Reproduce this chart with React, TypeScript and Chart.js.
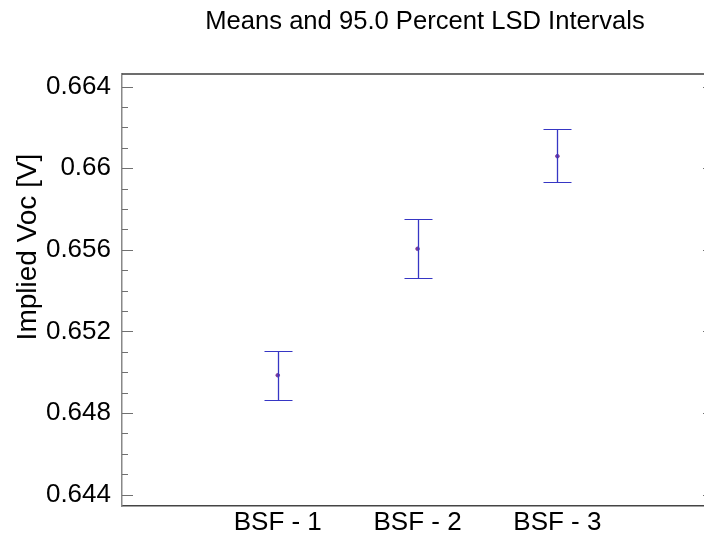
import React, { useEffect, useRef } from "react";
import { Chart, registerables } from "chart.js";

Chart.register(...registerables);

const categories = ["BSF - 1", "BSF - 2", "BSF - 3"];
const means = [0.64985, 0.65605, 0.66059];
const lowerLimits = [0.64863, 0.6546, 0.65932];
const upperLimits = [0.65105, 0.65752, 0.66191];
const yMajorTicks = [0.644, 0.648, 0.652, 0.656, 0.66, 0.664];
const yMinorTicks = [
  0.645, 0.646, 0.647, 0.649, 0.65, 0.651, 0.653, 0.654, 0.655, 0.657, 0.658,
  0.659, 0.661, 0.662, 0.663,
];

const FONT = "'Liberation Sans', Arial, sans-serif";

const decorPlugin = {
  id: "decor",
  afterDatasetsDraw(chart: any) {
    const { ctx, scales } = chart;
    const x = scales.x;
    const y = scales.y;
    ctx.save();
    ctx.strokeStyle = "#3636c4";
    for (let i = 0; i < categories.length; i++) {
      const px = Math.round(x.getPixelForValue(i + 1)) + 0.5;
      const pLo = Math.round(y.getPixelForValue(lowerLimits[i])) + 0.5;
      const pHi = Math.round(y.getPixelForValue(upperLimits[i])) + 0.5;
      ctx.lineWidth = 1.3;
      ctx.beginPath();
      ctx.moveTo(px, pLo);
      ctx.lineTo(px, pHi);
      ctx.stroke();
      ctx.lineWidth = 1;
      ctx.beginPath();
      ctx.moveTo(px - 14, pLo);
      ctx.lineTo(px + 14, pLo);
      ctx.moveTo(px - 14, pHi);
      ctx.lineTo(px + 14, pHi);
      ctx.stroke();
    }
    ctx.restore();
  },
  afterDraw(chart: any) {
    const { ctx, chartArea, scales } = chart;
    const y = scales.y;
    ctx.save();
    ctx.strokeStyle = "#3c3c3c";
    ctx.lineWidth = 1.5;
    ctx.beginPath();
    ctx.moveTo(chartArea.left, chartArea.top);
    ctx.lineTo(chartArea.right, chartArea.top);
    ctx.stroke();
    ctx.strokeStyle = "#666";
    ctx.beginPath();
    ctx.moveTo(chartArea.right, chartArea.top);
    ctx.lineTo(chartArea.right, chartArea.bottom);
    ctx.stroke();
    ctx.strokeStyle = "#707070";
    ctx.lineWidth = 1;
    const drawTick = (v: number, len: number) => {
      const py = Math.round(y.getPixelForValue(v)) + 0.5;
      ctx.beginPath();
      ctx.moveTo(chartArea.left, py);
      ctx.lineTo(chartArea.left + len, py);
      ctx.moveTo(chartArea.right, py);
      ctx.lineTo(chartArea.right - len, py);
      ctx.stroke();
    };
    yMajorTicks.forEach((v) => drawTick(v, 11));
    yMinorTicks.forEach((v) => drawTick(v, 6));
    ctx.fillStyle = "#000";
    ctx.font = `25.6px ${FONT}`;
    ctx.textAlign = "center";
    ctx.textBaseline = "middle";
    ctx.fillText("Means and 95.0 Percent LSD Intervals", 425, 22);
    ctx.translate(28, 247);
    ctx.rotate(-Math.PI / 2);
    ctx.font = `28px ${FONT}`;
    ctx.fillText("Implied Voc [V]", 0, 0);
    ctx.restore();
  },
};

export default function App() {
  const ref = useRef<HTMLCanvasElement | null>(null);
  useEffect(() => {
    if (!ref.current) return;
    const chart = new Chart(ref.current, {
      type: "scatter",
      data: {
        datasets: [
          {
            data: means.map((m, i) => ({ x: i + 1, y: m })),
            backgroundColor: "#7a3a9a",
            borderColor: "#7a3a9a",
            pointRadius: 1.8,
            pointHoverRadius: 1.8,
          },
        ],
      },
      options: {
        animation: false,
        responsive: false,
        maintainAspectRatio: false,
        events: [],
        layout: { padding: { top: 74, right: 6, left: 0, bottom: 0 } },
        plugins: {
          legend: { display: false },
          title: { display: false },
          tooltip: { enabled: false },
        },
        scales: {
          x: {
            type: "linear",
            min: -0.114,
            max: 4.12,
            grid: { display: false, drawTicks: false },
            border: { display: true, color: "#444", width: 1.5 },
            afterBuildTicks: (s: any) => {
              s.ticks = categories.map((_, i) => ({ value: i + 1 }));
            },
            afterFit: (s: any) => {
              s.height = 36;
            },
            ticks: {
              color: "#000",
              font: { family: FONT, size: 26 },
              padding: 1,
              maxRotation: 0,
              autoSkip: false,
              callback: (v: any) => categories[Number(v) - 1] ?? "",
            },
          },
          y: {
            type: "linear",
            min: 0.64344,
            max: 0.66462,
            grid: { display: false, drawTicks: false },
            border: { display: true, color: "#888", width: 1.5 },
            afterBuildTicks: (s: any) => {
              s.ticks = yMajorTicks.map((v) => ({ value: v }));
            },
            afterFit: (s: any) => {
              s.width = 122;
            },
            ticks: {
              color: "#000",
              font: { family: FONT, size: 26 },
              padding: 11,
              callback: (v: any) => String(Number(Number(v).toFixed(3))),
            },
          },
        },
      },
      plugins: [decorPlugin],
    });
    return () => chart.destroy();
  }, []);
  return (
    <div
      style={{
        position: "fixed",
        left: 0,
        top: 0,
        width: 704,
        height: 542,
        overflow: "hidden",
        background: "#fff",
      }}
    >
      <canvas
        ref={ref}
        width={720}
        height={542}
        style={{ width: 720, height: 542, display: "block" }}
      />
    </div>
  );
}
